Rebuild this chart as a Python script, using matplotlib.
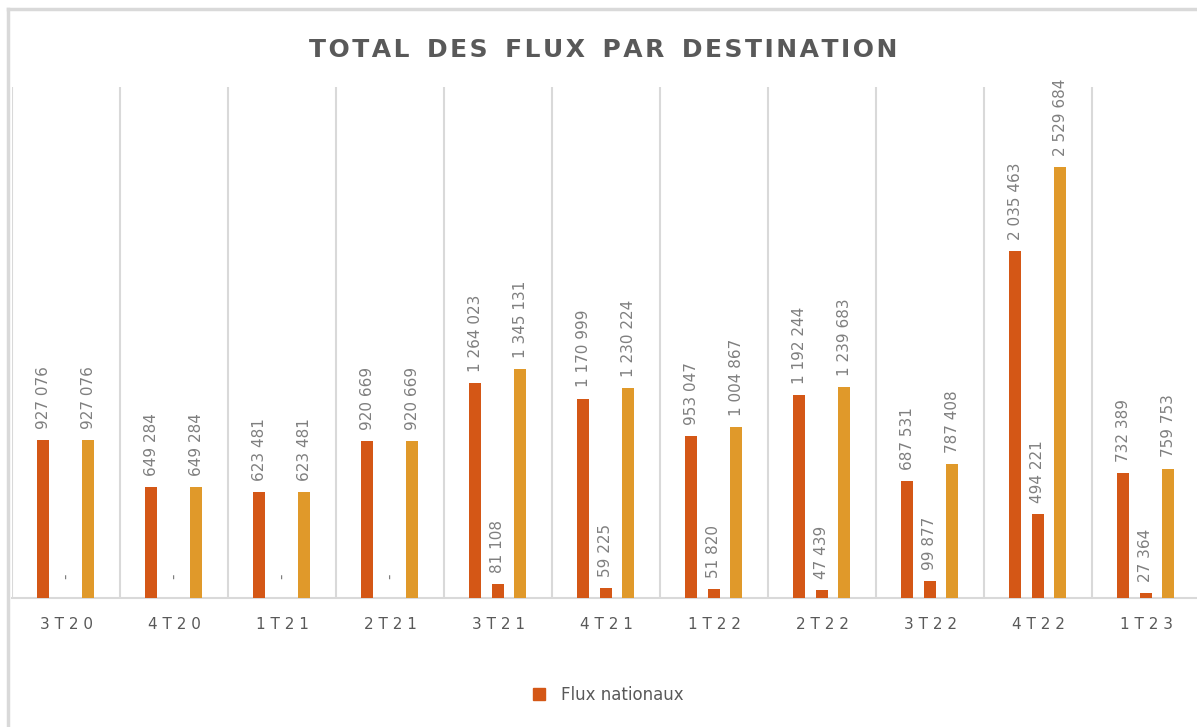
import numpy as np
import matplotlib.pyplot as plt
from matplotlib.lines import Line2D

# trimestres
trimestres = ["3T20", "4T20", "1T21", "2T21", "3T21", "4T21", "1T22", "2T22", "3T22", "4T22", "1T23"]
flux_nationaux = [927076, 649284, 623481, 920669, 1264023, 1170999, 953047, 1192244, 687531, 2035463, 732389]
flux_internationaux = [0, 0, 0, 0, 81108, 59225, 51820, 47439, 99877, 494221, 27364]
total_flux = [927076, 649284, 623481, 920669, 1345131, 1230224, 1004867, 1239683, 787408, 2529684, 759753]

c_nat = "#d45716"
c_tot = "#e0992a"
gris = "#7f7f7f"
gris_fonce = "#595959"
gris_ligne = "#d9d9d9"


def fmt(v):
    if v == 0:
        return "-"
    return f"{v:,}".replace(",", " ")


fig = plt.figure(figsize=(11.97, 7.27), dpi=100)
W, H = 1197, 727
ax = fig.add_axes([12 / W, (H - 598) / H, 1188 / W, (598 - 87) / H])

x = np.arange(len(trimestres))
w = 0.11
series = [(flux_nationaux, -0.21, c_nat), (flux_internationaux, 0.0, c_nat), (total_flux, 0.205, c_tot)]
for vals, off, col in series:
    bars = ax.bar(x + off, vals, width=w, color=col, zorder=3)
    for b, v in zip(bars, vals):
        ax.annotate(fmt(v), (b.get_x() + b.get_width() / 2, v), xytext=(0, 8 if v else 14),
                    textcoords="offset points", rotation=90, ha="center", va="bottom",
                    color=gris, fontsize=11)

# grille verticale entre catégories
for i in range(len(trimestres) + 1):
    ax.axvline(i - 0.5, color=gris_ligne, lw=1.5, zorder=1)

ax.set_xlim(-0.5, len(trimestres) - 0.5)
ax.set_ylim(0, 3000000)
ax.set_yticks([])
ax.set_xticks(x)
ax.set_xticklabels([" ".join(t) for t in trimestres], color=gris_fonce, fontsize=11)
ax.tick_params(axis="x", length=0, pad=14)
for s in ["top", "left", "right"]:
    ax.spines[s].set_visible(False)
ax.spines["bottom"].set_color(gris_ligne)
ax.spines["bottom"].set_linewidth(1.5)

titre = "TOTAL DES FLUX PAR DESTINATION"
titre_espace = "  ".join("\u200a".join(mot) for mot in titre.split())
fig.text(603 / W, 1 - 50 / H, titre_espace, ha="center", va="center",
         fontsize=18, fontweight="bold", color=gris_fonce)

# légende
leg_handle = Line2D([], [], marker="s", linestyle="none", markersize=9, color=c_nat)
fig.legend([leg_handle], ["Flux nationaux"], loc="center", bbox_to_anchor=(603 / W, 1 - 695 / H),
           frameon=False, fontsize=12, labelcolor=gris_fonce, handletextpad=0.3)

# cadre du graphique
fig.add_artist(Line2D([8 / W, 1], [1 - 9 / H, 1 - 9 / H], color=gris_ligne, lw=2.5))
fig.add_artist(Line2D([8 / W, 8 / W], [0, 1 - 9 / H], color=gris_ligne, lw=2.5))

fig.savefig("out.png", dpi=100)
